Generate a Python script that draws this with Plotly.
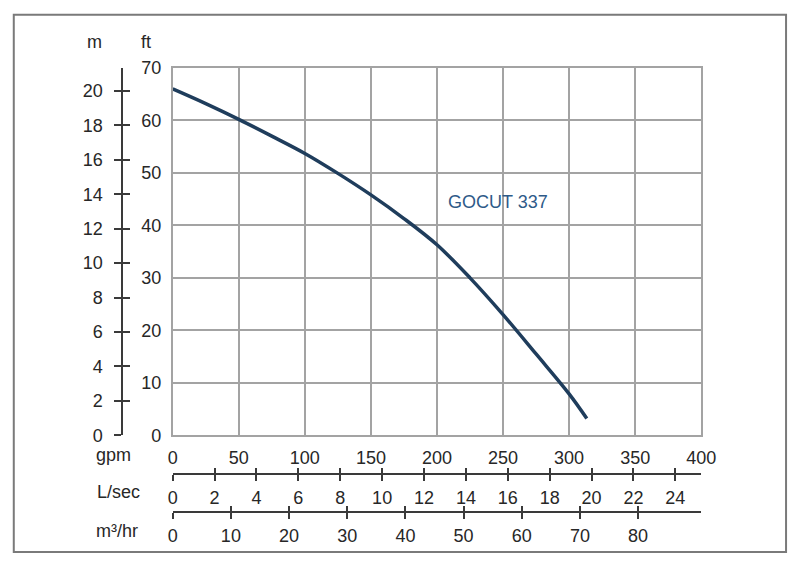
import plotly.graph_objects as go

# ---- data ----
flow_gpm = [0, 25, 50, 75, 100, 125, 150, 175, 200, 225, 250, 275, 300, 313.4]
head_ft = [66.0, 63.2, 60.2, 57.0, 53.7, 49.9, 45.8, 41.3, 36.3, 30.0, 23.0, 15.5, 7.9, 3.2]
series_name = "GOCUT 337"

gpm_ticks = [0, 50, 100, 150, 200, 250, 300, 350, 400]
ft_ticks = [0, 10, 20, 30, 40, 50, 60, 70]
m_ticks = [0, 2, 4, 6, 8, 10, 12, 14, 16, 18, 20]
lsec_ticks = [0, 2, 4, 6, 8, 10, 12, 14, 16, 18, 20, 22, 24]
m3hr_ticks = [0, 10, 20, 30, 40, 50, 60, 70, 80]

GPM_PER_LSEC = 15.850323
GPM_PER_M3HR = 4.402868
M_PER_FT = 0.3048

W, H = 803, 563
FONT = "Liberation Sans, Arial, sans-serif"
TXT = "#272727"
GRID = "#a3a3a3"
AX = "#3a3a3a"
FS = 18

def px_x(p):
    return p / W

def px_y(p):
    return (H - p) / H

xdom = [px_x(172), px_x(714)]
ydom = [px_y(441), px_y(60)]

fig = go.Figure()

fig.add_trace(go.Scatter(
    x=flow_gpm, y=head_ft, mode="lines",
    line=dict(color="#1f3d5c", width=3.5, shape="spline", smoothing=1.0),
    name=series_name, showlegend=False, hoverinfo="skip"))

# invisible anchor traces for secondary axes
for xa, ya in [("x2", "y"), ("x3", "y"), ("x4", "y"), ("x5", "y"), ("x", "y3"), ("x", "y4")]:
    fig.add_trace(go.Scatter(x=[0], y=[0], xaxis=xa, yaxis=ya, mode="markers",
                             marker=dict(opacity=0), showlegend=False, hoverinfo="skip"))

fig.add_annotation(x=px_x(506), y=px_y(199), xref="paper", yref="paper", text=series_name, showarrow=False,
                   font=dict(family=FONT, size=FS, color="#2e5a88"), xanchor="center", yanchor="middle")

tickfont = dict(family=FONT, size=FS, color=TXT)

fig.update_layout(
    width=W, height=H,
    margin=dict(l=0, r=0, t=0, b=0),
    paper_bgcolor="white", plot_bgcolor="white",
    xaxis=dict(domain=xdom, range=[0, 400], tickvals=gpm_ticks, showgrid=True, gridcolor=GRID, gridwidth=1.5,
               showline=True, linecolor=GRID, linewidth=1.5, mirror=True, zeroline=False,
               ticks="", tickfont=tickfont, ticklabelstandoff=5),
    yaxis=dict(domain=ydom, range=[0, 70], tickvals=ft_ticks, showgrid=True, gridcolor=GRID, gridwidth=1.5,
               showline=True, linecolor=GRID, linewidth=1.5, mirror=True, zeroline=False,
               ticks="", tickfont=tickfont, ticklabelstandoff=6),
    xaxis2=dict(overlaying="x", anchor="free", position=px_y(481.5), side="bottom",
                range=[0, 400 / GPM_PER_LSEC], tickvals=lsec_ticks, showgrid=False, zeroline=False,
                showline=True, linecolor=AX, linewidth=1.5, ticks="outside", ticklen=6, tickwidth=1.5,
                tickcolor=AX, tickfont=tickfont, ticklabelstandoff=1),
    xaxis3=dict(overlaying="x", anchor="free", position=px_y(481.5), side="bottom",
                range=[0, 400 / GPM_PER_LSEC], tickvals=lsec_ticks, showgrid=False, zeroline=False,
                showline=False, ticks="inside", ticklen=6, tickwidth=1.5, tickcolor=AX, showticklabels=False),
    xaxis4=dict(overlaying="x", anchor="free", position=px_y(520.7), side="bottom",
                range=[0, 400 / GPM_PER_M3HR], tickvals=m3hr_ticks, showgrid=False, zeroline=False,
                showline=True, linecolor=AX, linewidth=1.5, ticks="outside", ticklen=6, tickwidth=1.5,
                tickcolor=AX, tickfont=tickfont, ticklabelstandoff=1),
    xaxis5=dict(overlaying="x", anchor="free", position=px_y(520.7), side="bottom",
                range=[0, 400 / GPM_PER_M3HR], tickvals=m3hr_ticks, showgrid=False, zeroline=False,
                showline=False, ticks="inside", ticklen=6, tickwidth=1.5, tickcolor=AX, showticklabels=False),
    yaxis3=dict(overlaying="y", anchor="free", position=px_x(120), side="left",
                range=[0, 70 * M_PER_FT], tickvals=m_ticks, showgrid=False, zeroline=False,
                showline=True, linecolor=AX, linewidth=1.5, ticks="outside", ticklen=7, tickwidth=1.5,
                tickcolor=AX, tickfont=tickfont, ticklabelstandoff=8),
    yaxis4=dict(overlaying="y", anchor="free", position=px_x(120), side="left",
                range=[0, 70 * M_PER_FT], tickvals=m_ticks, showgrid=False, zeroline=False,
                showline=False, ticks="inside", ticklen=7, tickwidth=1.5, tickcolor=AX, showticklabels=False),
    showlegend=False,
)

labels = [
    ("m", 92, 33, "center"),
    ("ft", 145, 33, "center"),
    ("gpm", 91, 461, "left"),
    ("L/sec", 92, 500, "left"),
    ("m³/hr", 91, 540, "left"),
]
for t, x, y, anc in labels:
    fig.add_annotation(x=px_x(x), y=px_y(y), xref="paper", yref="paper", text=t, showarrow=False,
                       font=dict(family=FONT, size=FS, color=TXT), xanchor=anc, yanchor="middle")

# outer frame
fig.add_shape(type="rect", xref="paper", yref="paper", x0=px_x(9), x1=px_x(801), y0=px_y(562), y1=px_y(5),
              line=dict(color="#7a7a7a", width=2), fillcolor="rgba(0,0,0,0)", layer="below")

fig.write_html(
    "out.html",
    config={"displayModeBar": False},
    post_script="document.body.style.margin='0';document.body.style.padding='0';"
                "document.documentElement.style.overflow='hidden';document.body.style.overflow='hidden';",
)
